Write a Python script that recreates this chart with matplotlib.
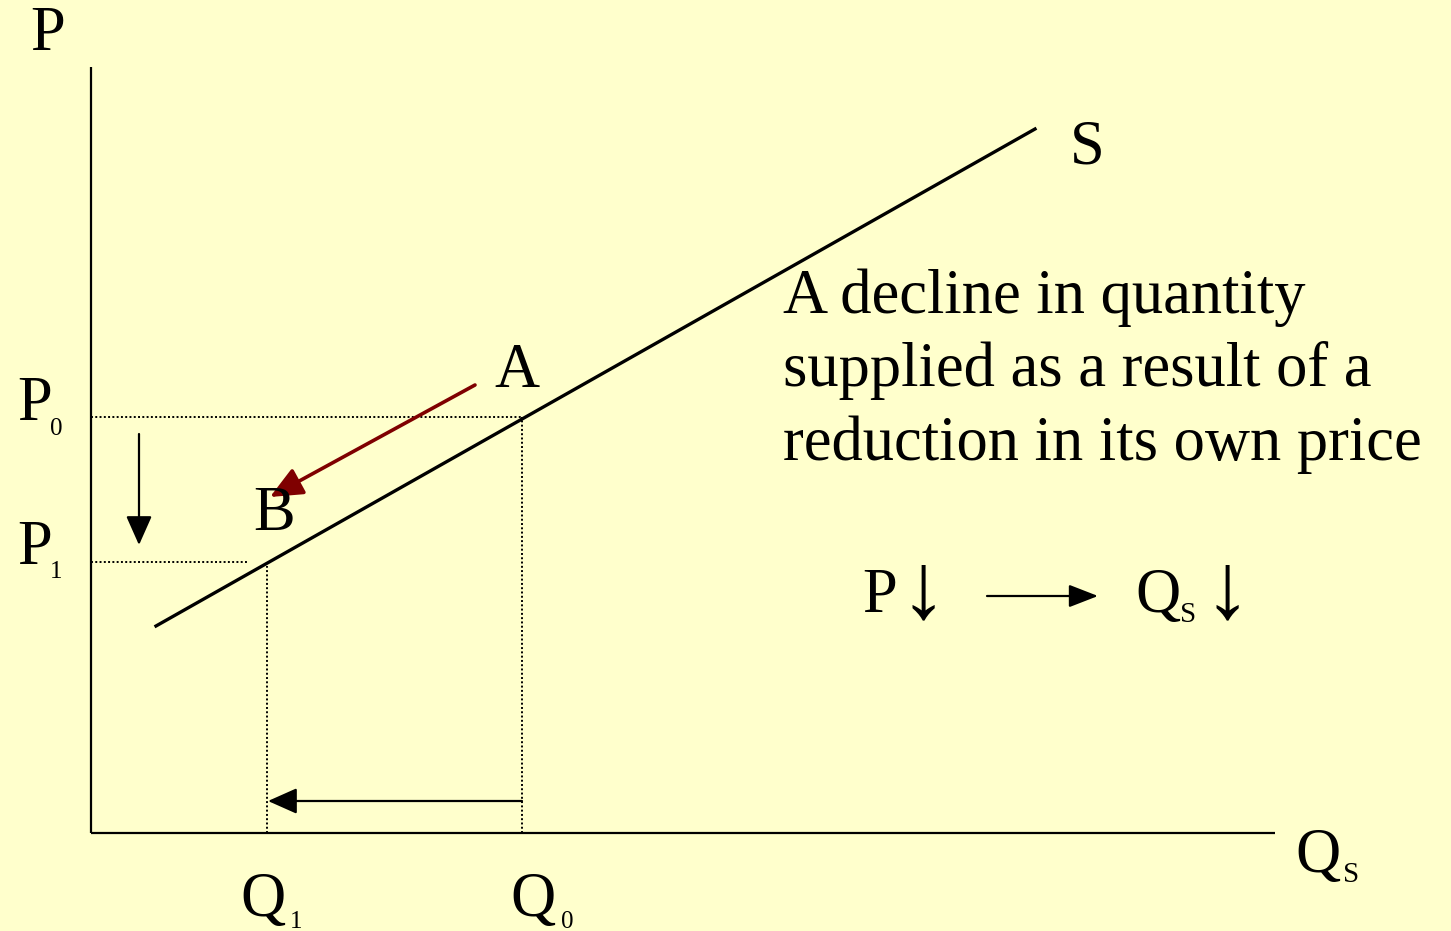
import matplotlib
matplotlib.use("Agg")
from matplotlib import pyplot as plt

# diagram values (quantity on x, price on y)
q_axis_max = 11.84
p_axis_max = 7.66
supply_q = [0.65, 9.44]
supply_p = [2.07, 7.04]
point_names = ["A", "B"]
q_points = [4.31, 1.76]  # Q0, Q1
p_points = [4.16, 2.71]  # P0, P1
p1_guide_end = 1.57
price_arrow_q = 0.48
price_arrow_p = [3.99, 2.88]
qty_arrow_p = 0.32
move_from = (3.84, 4.48)
move_to = (1.79, 3.36)

caption_lines = ["A decline in quantity",
                 "supplied as a result of a",
                 "reduction in its own price"]

bg = "#FFFFCC"
serif = ["Liberation Serif", "DejaVu Serif"]
big = 45
sub = 18

fig = plt.figure(figsize=(14.51, 9.31), dpi=100)
fig.patch.set_facecolor(bg)
ax = fig.add_axes([0, 0, 1, 1])
ax.set_facecolor(bg)
ax.set_xlim(-0.91, 13.60)
ax.set_ylim(-0.98, 8.33)
ax.axis("off")

# axes
ax.plot([0, 0], [0, p_axis_max], color="black", lw=1.6, solid_capstyle="butt")
ax.plot([0, q_axis_max], [0, 0], color="black", lw=1.6, solid_capstyle="butt")

# supply curve
ax.plot(supply_q, supply_p, color="black", lw=2.4)

# dotted guides
q0, q1 = q_points
p0, p1 = p_points
dots = (0, (1, 1.2))
ax.plot([0, q0], [p0, p0], color="black", lw=1.4, linestyle=dots)
ax.plot([q0, q0], [0, p0], color="black", lw=1.4, linestyle=dots)
ax.plot([0, p1_guide_end], [p1, p1], color="black", lw=1.4, linestyle=dots)
ax.plot([q1, q1], [0, p1 - 0.04], color="black", lw=1.4, linestyle=dots)

head = "-|>,head_length=0.9,head_width=0.4"
ax.annotate("", xy=(price_arrow_q, price_arrow_p[1]), xytext=(price_arrow_q, price_arrow_p[0]),
            arrowprops=dict(arrowstyle=head, color="black", lw=1.6, mutation_scale=20,
                            shrinkA=0, shrinkB=0))
ax.annotate("", xy=(q1 + 0.01, qty_arrow_p), xytext=(q0, qty_arrow_p),
            arrowprops=dict(arrowstyle=head, color="black", lw=1.6, mutation_scale=20,
                            shrinkA=0, shrinkB=0))
ax.annotate("", xy=move_to, xytext=move_from,
            arrowprops=dict(arrowstyle=head, color="#7F0000", lw=2.6, mutation_scale=22,
                            shrinkA=0, shrinkB=0))

# labels
def label(x, y, s, size=big, ha="center", va="baseline"):
    ax.text(x, y, s, fontsize=size, family=serif, ha=ha, va=va, color="black")

label(-0.43, 7.83, "P")
label(-0.56, 4.13, "P")
label(-0.35, 3.98, "0", sub)
label(-0.56, 2.69, "P")
label(-0.35, 2.55, "1", sub)
label(1.72, -0.83, "Q")
label(2.05, -0.95, "1", sub)
label(4.42, -0.83, "Q")
label(4.76, -0.95, "0", sub)
label(12.27, -0.39, "Q")
label(12.60, -0.49, "S", 21)
label(9.96, 6.70, "S")
label(4.26, 4.46, point_names[0])
label(1.83, 3.03, point_names[1])

for i, line in enumerate(caption_lines):
    label(6.92, 5.20 - i * 0.735, line, big, ha="left")

# P down -> Qs down
label(7.89, 2.21, "P")
label(8.32, 2.38, "\u2193", 68, va="center")
ax.annotate("", xy=(10.07, 2.37), xytext=(8.96, 2.37),
            arrowprops=dict(arrowstyle="-|>,head_length=0.9,head_width=0.35", color="black",
                            lw=1.6, mutation_scale=20, shrinkA=0, shrinkB=0))
label(10.67, 2.21, "Q")
label(10.97, 2.11, "S", 21)
label(11.36, 2.38, "\u2193", 68, va="center")

fig.savefig("out.png", dpi=100, facecolor=bg)
